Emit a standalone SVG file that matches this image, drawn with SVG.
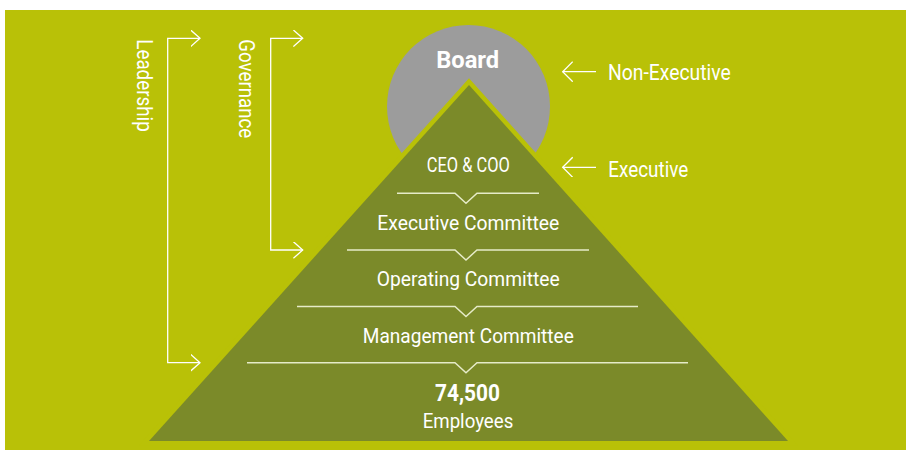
<svg xmlns="http://www.w3.org/2000/svg" width="906" height="450" viewBox="0 0 906 450">
<style>
text{font-family:Roboto,"Liberation Sans",sans-serif;fill:#ffffff;}
.lbl{font-size:21px;text-anchor:middle;}
.ceo{font-size:20px;text-anchor:middle;}
.big{font-size:24px;font-weight:bold;text-anchor:middle;}
.side{font-size:22px;}
.conn{fill:none;stroke:#ffffff;stroke-width:1.3;}
.sep{fill:none;stroke:#e6ebc8;stroke-width:1.5;}
</style>
<defs>
<marker id="arrR" markerUnits="userSpaceOnUse" markerWidth="12" markerHeight="20" refX="9.3" refY="8.3" orient="auto-start-reverse">
<path d="M0,0 L9.3,8.3 L0,16.6" fill="none" stroke="#ffffff" stroke-width="1.3"/>
</marker>
<marker id="arrL" markerUnits="userSpaceOnUse" markerWidth="13" markerHeight="22" refX="10" refY="10" orient="auto">
<path d="M0,0 L10,10 L0,20" fill="none" stroke="#ffffff" stroke-width="1.3"/>
</marker>
</defs>
<rect x="5" y="10" width="901" height="440" fill="#b9c107"/>
<g id="board">
<circle cx="468.5" cy="106.5" r="81.5" fill="#9c9c9c"/>
<text class="big" x="467.7" y="68.3" textLength="63" lengthAdjust="spacingAndGlyphs">Board</text>
</g>
<g id="pyramid">
<polygon points="469,85 788,441 149,441" fill="#7b8a29" stroke="#b9c107" stroke-width="9" stroke-linejoin="miter" paint-order="stroke"/>
</g>
<g id="ceo"><text class="ceo" x="468.3" y="172.3" textLength="83" lengthAdjust="spacingAndGlyphs">CEO &amp; COO</text></g>
<g id="exco"><text class="lbl" x="468.3" y="230" textLength="182" lengthAdjust="spacingAndGlyphs">Executive Committee</text></g>
<g id="opco"><text class="lbl" x="468.3" y="286" textLength="183" lengthAdjust="spacingAndGlyphs">Operating Committee</text></g>
<g id="mgmt"><text class="lbl" x="468.3" y="343" textLength="211" lengthAdjust="spacingAndGlyphs">Management Committee</text></g>
<g id="employees">
<text class="big" x="467.5" y="401" textLength="65" lengthAdjust="spacingAndGlyphs">74,500</text>
<text class="lbl" x="468" y="428.3" textLength="90.6" lengthAdjust="spacingAndGlyphs">Employees</text>
</g>
<g id="nonexec-label"><text class="side" x="608" y="80" textLength="122.7" lengthAdjust="spacingAndGlyphs">Non-Executive</text></g>
<g id="exec-label"><text class="side" x="608.3" y="176.7" textLength="80" lengthAdjust="spacingAndGlyphs">Executive</text></g>
<g id="leadership-label"><text class="side" transform="translate(136.7,39.3) rotate(90)" x="0" y="0" textLength="92.4" lengthAdjust="spacingAndGlyphs">Leadership</text></g>
<g id="governance-label"><text class="side" transform="translate(239.3,39.3) rotate(90)" x="0" y="0" textLength="99" lengthAdjust="spacingAndGlyphs">Governance</text></g>
<g id="connectors">
<polyline class="sep" points="397,193.3 455,193.3 466,203.3 477,193.3 539,193.3"/>
<polyline class="sep" points="347,250 455,250 466,260 477,250 589,250"/>
<polyline class="sep" points="297,306.5 455,306.5 466,316.5 477,306.5 638,306.5"/>
<polyline class="sep" points="247,362.7 455,362.7 466,372.7 477,362.7 688,362.7"/>
<path class="conn" d="M200,38.3 H167.7 V362.7 H200" marker-start="url(#arrR)" marker-end="url(#arrR)"/>
<path class="conn" d="M302.7,38.3 H270.7 V250 H302.7" marker-start="url(#arrR)" marker-end="url(#arrR)"/>
<path class="conn" d="M596,71.7 H562.7" marker-end="url(#arrL)"/>
<path class="conn" d="M596,167.3 H562.7" marker-end="url(#arrL)"/>
</g>
</svg>
